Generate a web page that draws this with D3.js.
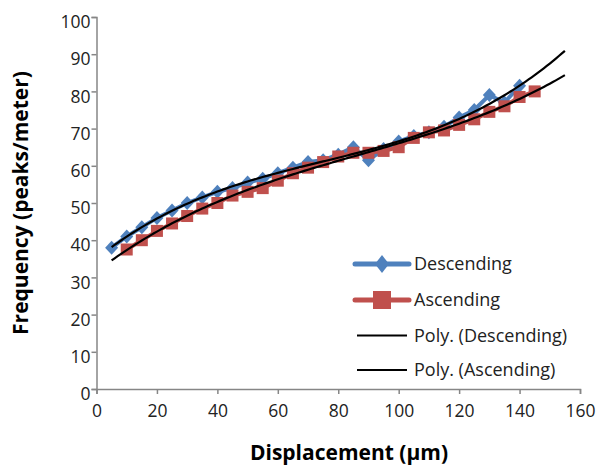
<!DOCTYPE html>
<html><head><meta charset="utf-8">
<script src="https://cdn.jsdelivr.net/npm/d3@7"></script>
<style>body{margin:0;background:#fff}svg{display:block}</style>
</head><body><svg id="c" width="600" height="468"></svg>
<script>
const descX = [5,10,15,20,25,30,35,40,45,50,55,60,65,70,75,80,85,90,95,100,105,110,115,120,125,130,135,140];
const descY = [38,41,43.5,46,48,50,51.5,53,54,55.5,56.5,58,59.5,61,61.5,63,65,61.5,64.5,66.5,68,69,70.5,73,75,79,77,81.5];
const ascX = [10,15,20,25,30,35,40,45,50,55,60,65,70,75,80,85,90,95,100,105,110,115,120,125,130,135,140,145];
const ascY = [37.5,40,42.5,44.5,46.5,48.5,50,52,53,54,56,58,59.5,61,62.5,63.5,63.5,64,65,67.5,69,69.5,71,72.5,74.5,76,78.5,80];
const xTicks = [0,20,40,60,80,100,120,140,160];
const yTicks = [0,10,20,30,40,50,60,70,80,90,100];
const trendRange = [5,155];
const legendLabels = ["Descending","Ascending","Poly. (Descending)","Poly. (Ascending)"];

const svg = d3.select("#c");
const x = d3.scaleLinear().domain([0,160]).range([96.5,580]);
const y = d3.scaleLinear().domain([0,100]).range([389,17]);
const font = "'Open Sans', sans-serif";
const blue = "#4F81BD", red = "#C0504D";

// axes
const xa = svg.append("g").attr("transform","translate(0,389)")
  .call(d3.axisBottom(x).tickValues(xTicks).tickSize(5).tickPadding(11));
const ya = svg.append("g").attr("transform","translate(96.5,0)")
  .call(d3.axisLeft(y).tickValues(yTicks).tickSize(5).tickPadding(1));
[xa,ya].forEach(a=>{
  a.selectAll("path,line").attr("stroke","#868686").attr("stroke-width",1.5);
  a.selectAll("text").attr("font-family",font).attr("font-size",17.5).attr("fill","#222");
});
ya.selectAll("text").attr("transform","translate(0,5)");

// fit cubic polynomial
function polyfit(xs, ys, deg){
  const n = deg+1, A = Array.from({length:n},()=>new Array(n+1).fill(0));
  xs.forEach((xv,i)=>{
    const t = xv/100;
    for(let r=0;r<n;r++){ for(let c=0;c<n;c++) A[r][c]+=Math.pow(t,r+c); A[r][n]+=ys[i]*Math.pow(t,r); }
  });
  for(let i=0;i<n;i++){
    let p=i; for(let k=i+1;k<n;k++) if(Math.abs(A[k][i])>Math.abs(A[p][i])) p=k;
    [A[i],A[p]]=[A[p],A[i]];
    for(let k=0;k<n;k++){ if(k===i) continue; const f=A[k][i]/A[i][i]; for(let c=i;c<=n;c++) A[k][c]-=f*A[i][c]; }
  }
  const co = A.map((r,i)=>r[n]/r[i]);
  return xv=>{const t=xv/100; return co.reduce((s,c,i)=>s+c*Math.pow(t,i),0);};
}

const line = d3.line().x(d=>x(d[0])).y(d=>y(d[1]));
const desc = descX.map((v,i)=>[v,descY[i]]);
const asc = ascX.map((v,i)=>[v,ascY[i]]);

// series lines + markers
svg.append("path").datum(desc).attr("d",line).attr("fill","none").attr("stroke",blue).attr("stroke-width",4);
svg.append("g").selectAll("path").data(desc).join("path")
  .attr("transform",d=>`translate(${x(d[0])},${y(d[1])})`)
  .attr("d","M0,-7L6.5,0L0,7L-6.5,0Z").attr("fill",blue);
svg.append("path").datum(asc).attr("d",line).attr("fill","none").attr("stroke",red).attr("stroke-width",4);
svg.append("g").selectAll("rect").data(asc).join("rect")
  .attr("x",d=>x(d[0])-6).attr("y",d=>y(d[1])-6).attr("width",12).attr("height",12).attr("fill",red);

// trendlines
const fD = polyfit(descX,descY,3), fA = polyfit(ascX,ascY,3);
const tx = d3.range(trendRange[0], trendRange[1]+0.01, 1);
[fD,fA].forEach(f=>{
  svg.append("path").datum(tx.map(v=>[v,f(v)])).attr("d",line)
    .attr("fill","none").attr("stroke","#000").attr("stroke-width",2.2);
});

// legend
const lg = svg.append("g");
const ly = [264,300,335.5,370];
legendLabels.forEach((t,i)=>{
  const g = lg.append("g").attr("transform",`translate(0,${ly[i]})`);
  if(i<2){
    g.append("line").attr("x1",355).attr("x2",409).attr("stroke",i?red:blue).attr("stroke-width",5).attr("stroke-linecap","round");
    if(i===0) g.append("path").attr("d","M382,-9L389,0L382,9L375,0Z").attr("fill",blue);
    else g.append("rect").attr("x",373).attr("y",-9).attr("width",18).attr("height",18).attr("fill",red);
  } else {
    g.append("line").attr("x1",357).attr("x2",407).attr("stroke","#000").attr("stroke-width",2.2);
  }
  g.append("text").attr("x",414).attr("y",0).attr("dy","0.35em").text(t)
    .attr("font-family",font).attr("font-size",18).attr("fill","#222");
});

// axis titles
svg.append("text").attr("x",349).attr("y",460).attr("text-anchor","middle")
  .attr("font-family",font).attr("font-weight","bold").attr("font-size",21).attr("fill","#000")
  .text("Displacement (µm)");
svg.append("text").attr("transform","translate(21,203) rotate(-90)").attr("dy","0.35em").attr("text-anchor","middle")
  .attr("font-family",font).attr("font-weight","bold").attr("font-size",21).attr("fill","#000")
  .text("Frequency (peaks/meter)");
</script></body></html>
